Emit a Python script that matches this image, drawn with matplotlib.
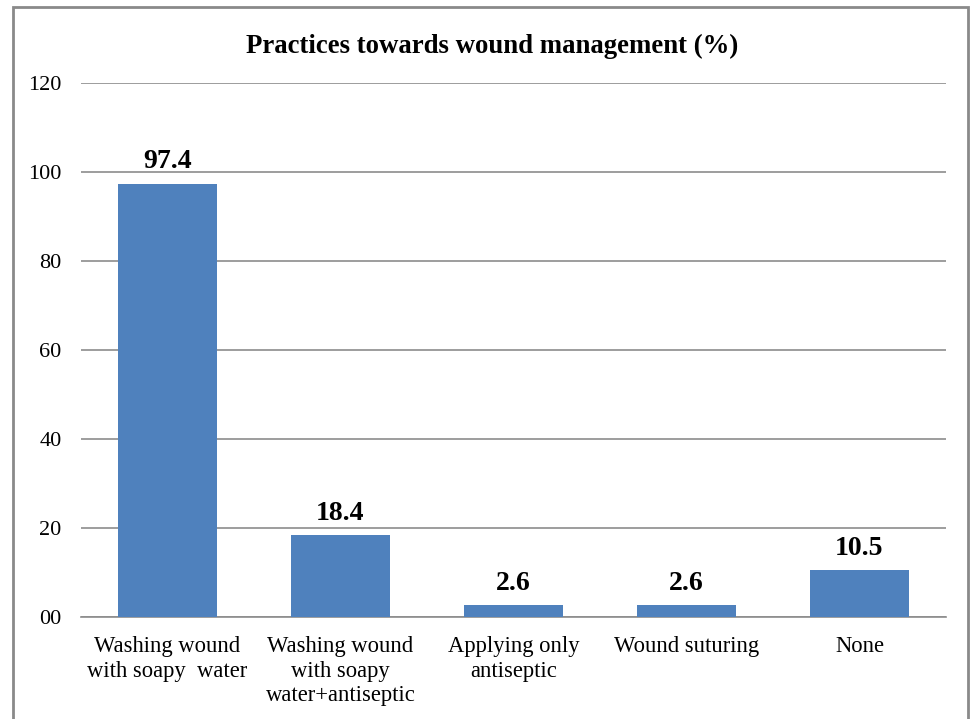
"""bar chart: practices towards wound management
"""

from matplotlib import pyplot
from matplotlib.patches import Rectangle

categories = [
    'Washing wound\nwith soapy  water',
    'Washing wound\nwith soapy\nwater+antiseptic',
    'Applying only\nantiseptic',
    'Wound suturing',
    'None',
]
values = [97.4, 18.4, 2.6, 2.6, 10.5]
y_ticks = [0, 20, 40, 60, 80, 100, 120]
y_tick_labels = ['00', '20', '40', '60', '80', '100', '120']

pyplot.rcParams['font.family'] = ['Liberation Serif', 'DejaVu Serif']

fig = pyplot.figure(figsize=(9.71, 7.19), dpi=100)
ax = fig.add_axes([0.0834, 0.1419, 0.8908, 0.7427])

# outer frame of the chart
fig.patches.append(Rectangle((13 / 971, -0.05), 955 / 971, 1.05 - 7 / 719,
                             transform=fig.transFigure, fill=False,
                             edgecolor='#8a8a8a', linewidth=2))

x = range(len(categories))
ax.bar(x, values, width=0.57, color='#4F81BD', zorder=3)
for i, v in zip(x, values):
    ax.annotate(f'{v}', (i, v), xytext=(0, 11), textcoords='offset points',
                ha='center', va='baseline', fontsize=20, fontweight='bold')

ax.set_xlim(-0.5, len(categories) - 0.5)
ax.set_ylim(0, 120)
ax.set_yticks(y_ticks)
ax.set_yticklabels(y_tick_labels, fontsize=16)
ax.set_xticks(list(x))
ax.set_xticklabels(categories, fontsize=16.3, linespacing=1.2)
ax.tick_params(axis='y', length=0, pad=14)
ax.tick_params(axis='x', length=0, pad=14)
ax.grid(axis='y', color='#8c8c8c', linewidth=1.2, zorder=0)
for side in ('left', 'right', 'top'):
    ax.spines[side].set_visible(False)
ax.spines['bottom'].set_color('#8c8c8c')
ax.spines['bottom'].set_linewidth(1.2)

fig.text(492 / 971, 0.935, 'Practices towards wound management (%)',
         ha='center', va='center', fontsize=19.3, fontweight='bold')

fig.savefig('out.png', dpi=100)
